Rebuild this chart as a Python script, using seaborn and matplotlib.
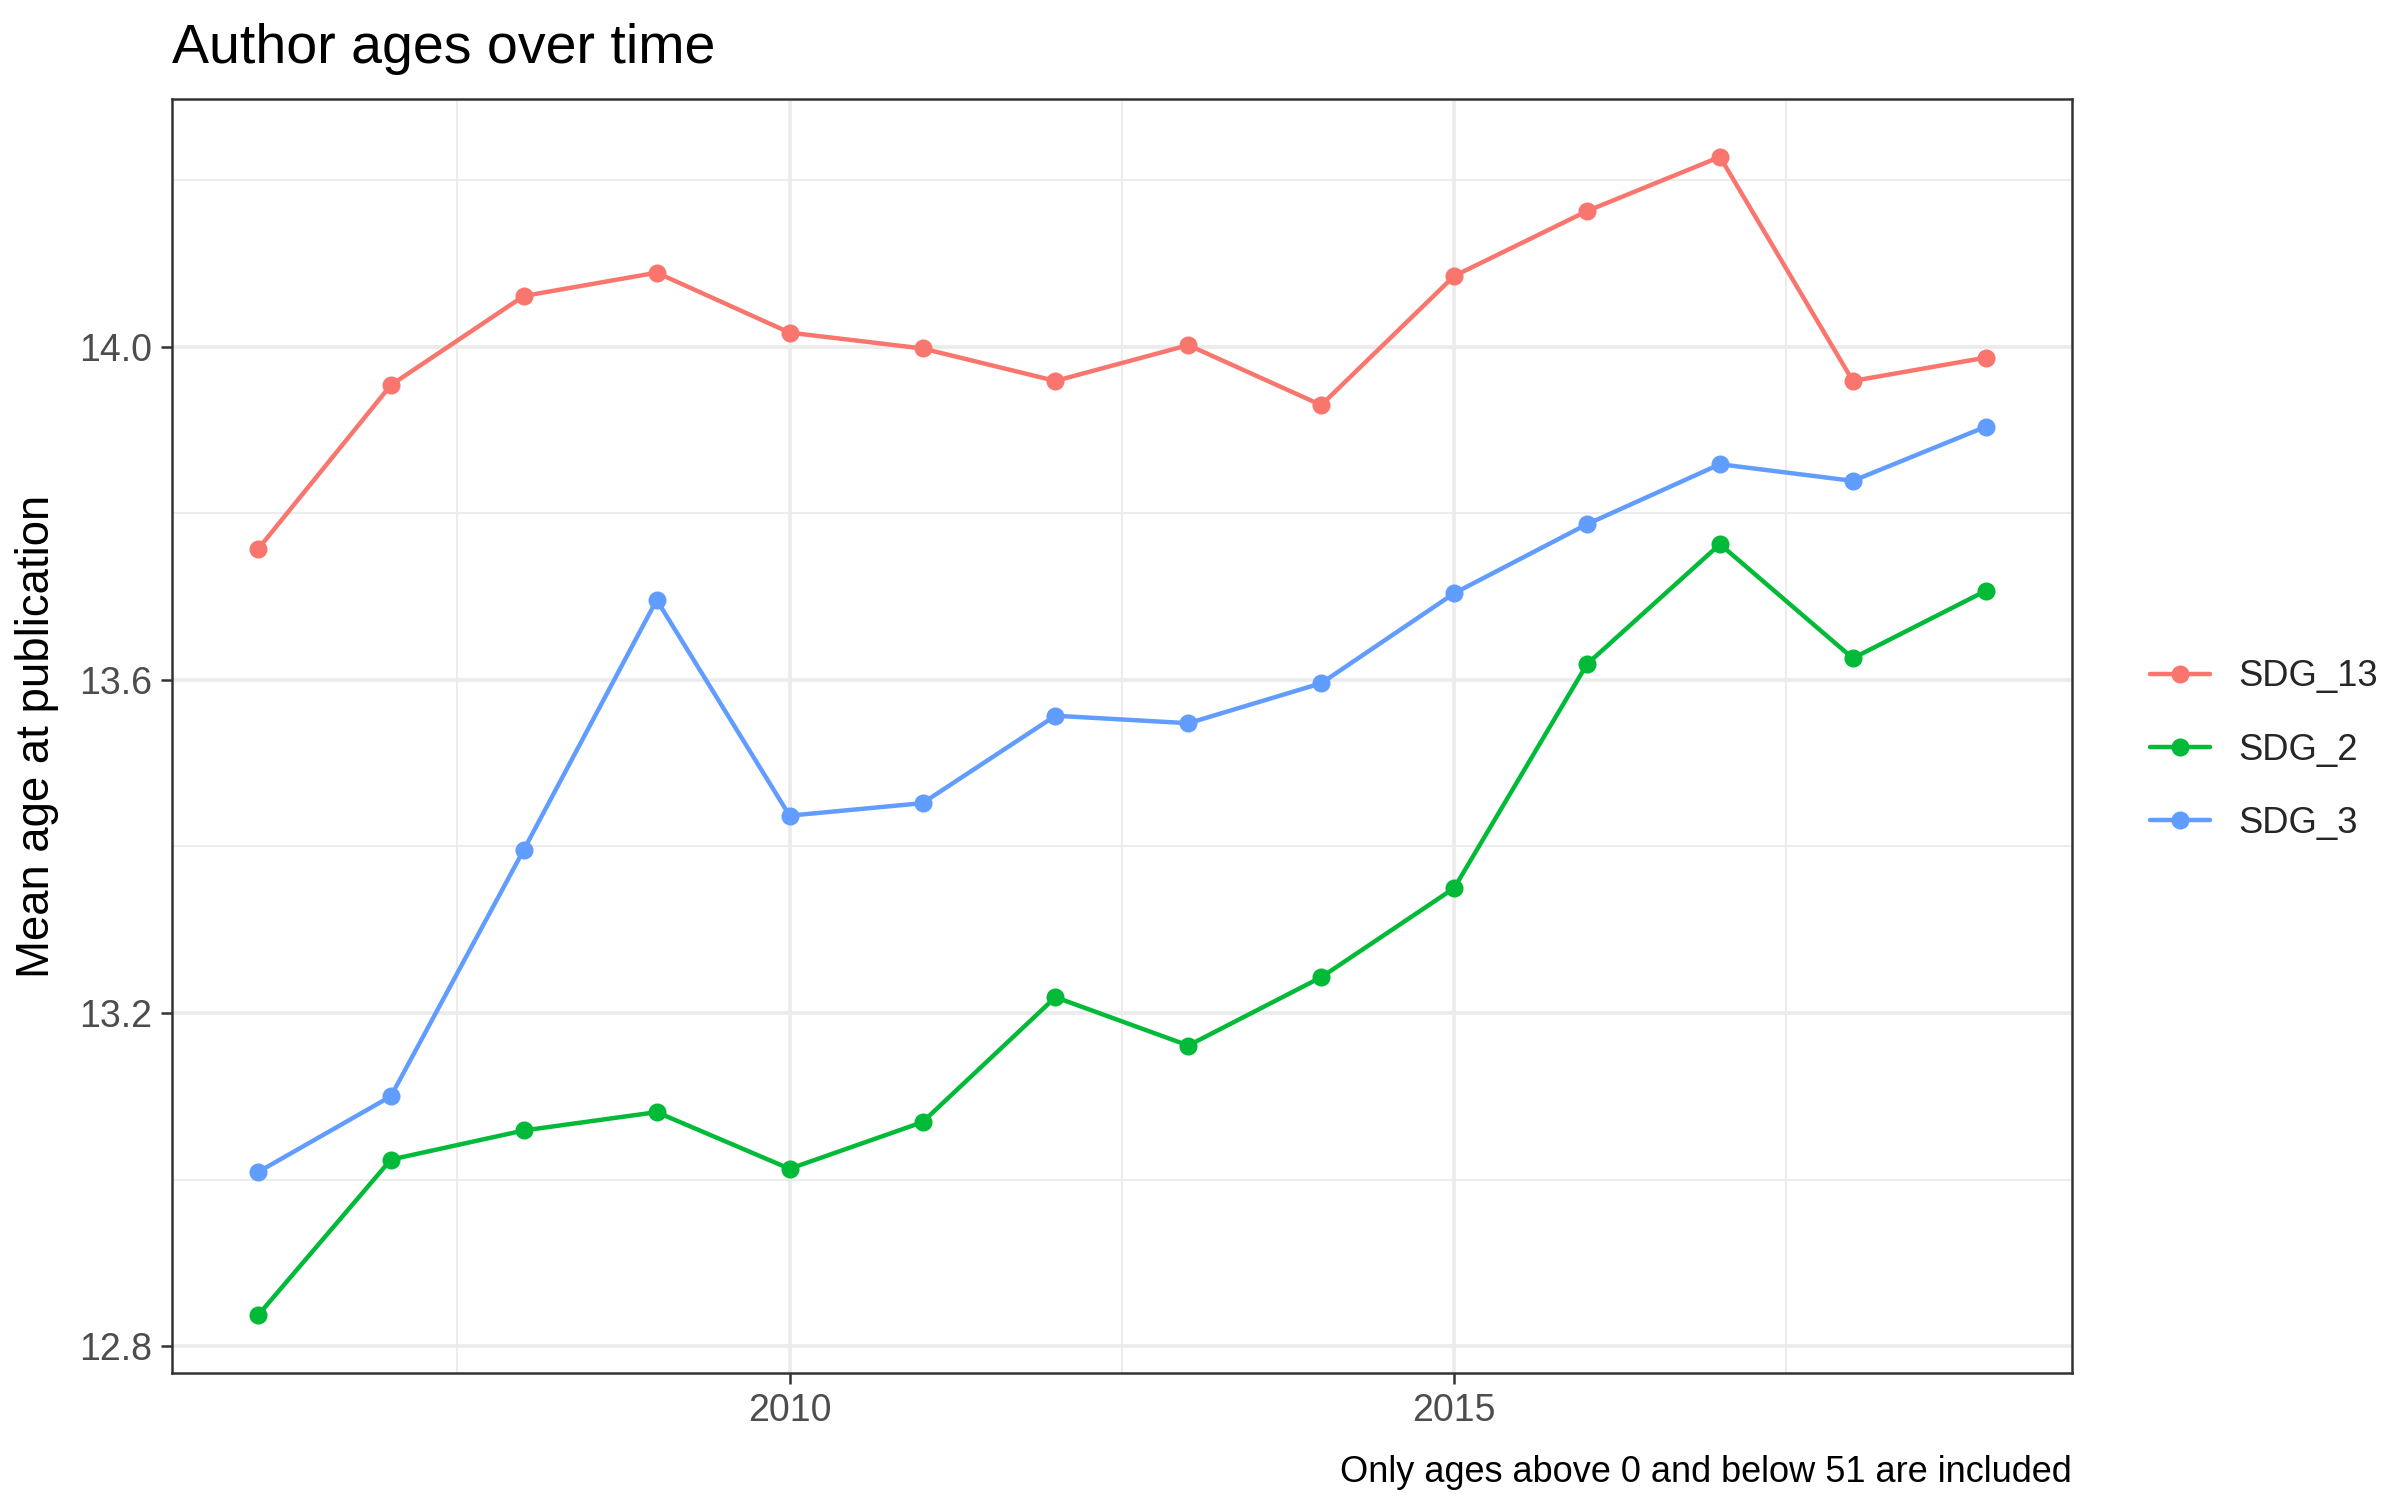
import matplotlib
matplotlib.use("Agg")
import matplotlib.pyplot as plt
import seaborn as sns
import pandas as pd
from matplotlib.ticker import FixedLocator
from matplotlib.lines import Line2D

years = list(range(2006, 2020))
sdg_13 = [13.757, 13.954, 14.061, 14.089, 14.017, 13.998, 13.959, 14.002, 13.930, 14.085, 14.163, 14.228, 13.959, 13.987]
sdg_2 = [12.837, 13.024, 13.059, 13.081, 13.013, 13.069, 13.219, 13.161, 13.243, 13.350, 13.619, 13.763, 13.626, 13.707]
sdg_3 = [13.009, 13.100, 13.396, 13.696, 13.437, 13.452, 13.557, 13.548, 13.596, 13.704, 13.787, 13.859, 13.839, 13.904]
groups = ["SDG_13", "SDG_2", "SDG_3"]
colors = ["#F8766D", "#00BA38", "#619CFF"]
x_ticks = [2010, 2015]
y_ticks = [12.8, 13.2, 13.6, 14.0]

df = pd.DataFrame({
    "year": years * 3,
    "age": sdg_13 + sdg_2 + sdg_3,
    "sdg": [groups[0]] * len(years) + [groups[1]] * len(years) + [groups[2]] * len(years),
})

sns.set_theme(style="white")
plt.rcParams["font.family"] = ["Liberation Sans", "DejaVu Sans"]

fig = plt.figure(figsize=(12, 7.5), dpi=200)
ax = fig.add_axes([0.0715, 0.0845, 0.7919, 0.8495])

sns.lineplot(data=df, x="year", y="age", hue="sdg", hue_order=groups,
             palette=dict(zip(groups, colors)), marker="o", markersize=6.5,
             markeredgewidth=0, linewidth=1.6, ax=ax, legend=False, zorder=3)

xmin, xmax = min(years), max(years)
xr = xmax - xmin
allv = sdg_13 + sdg_2 + sdg_3
ymin, ymax = min(allv), max(allv)
yr = ymax - ymin
ax.set_xlim(xmin - 0.05 * xr, xmax + 0.05 * xr)
ax.set_ylim(ymin - 0.05 * yr, ymax + 0.05 * yr)

ax.xaxis.set_major_locator(FixedLocator(x_ticks))
ax.xaxis.set_minor_locator(FixedLocator([2007.5, 2012.5, 2017.5]))
ax.yaxis.set_major_locator(FixedLocator(y_ticks))
ax.yaxis.set_minor_locator(FixedLocator([12.6, 13.0, 13.4, 13.8, 14.2]))
ax.set_xticklabels([str(t) for t in x_ticks])
ax.set_yticklabels([f"{t:.1f}" for t in y_ticks])

ax.grid(which="major", color="#EBEBEB", linewidth=1.3, zorder=0)
ax.grid(which="minor", color="#EBEBEB", linewidth=0.65, zorder=0)
ax.set_axisbelow(True)
for s in ax.spines.values():
    s.set_color("#333333")
    s.set_linewidth(0.9)

ax.tick_params(which="major", length=4, width=0.9, color="#333333",
               labelsize=13.5, labelcolor="#4D4D4D", pad=3,
               bottom=True, left=True)
ax.tick_params(which="minor", length=0)

ax.set_xlabel("")
ax.set_ylabel("Mean age at publication", fontsize=16.4, color="black")
ax.yaxis.set_label_coords(-0.059, 0.5)

fig.text(0.0715, 0.958, "Author ages over time", fontsize=20, ha="left",
         va="baseline", color="black")
fig.text(0.8634, 0.012, "Only ages above 0 and below 51 are included",
         fontsize=13, ha="right", va="baseline", color="black")

handles = [Line2D([0], [0], color=c, marker="o", markersize=6.5, markeredgewidth=0,
                  linewidth=1.6) for c in colors]
leg = fig.legend(handles, groups, loc="center left", bbox_to_anchor=(0.882, 0.5),
                 frameon=False, fontsize=13.1, handlelength=1.65, handletextpad=0.8,
                 labelspacing=1.05)

fig.savefig("out.png", dpi=200, facecolor="white")
